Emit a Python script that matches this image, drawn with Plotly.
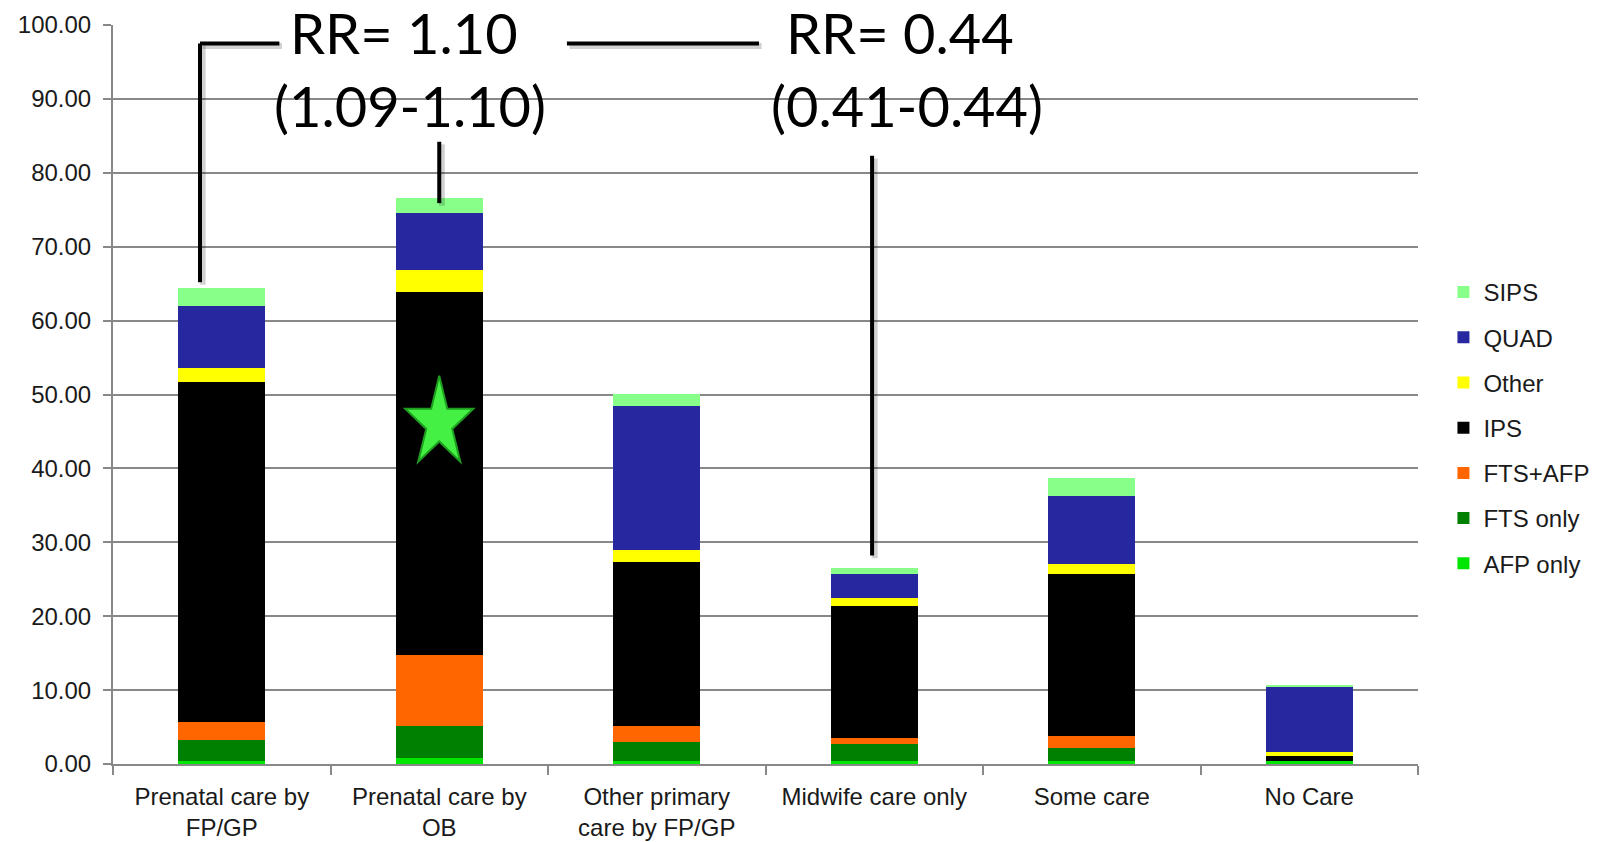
import math
import plotly.graph_objects as go

categories = ["Prenatal care by<br>FP/GP", "Prenatal care by<br>OB", "Other primary<br>care by FP/GP",
              "Midwife care only", "Some care", "No Care"]

afp_only = [0.36, 0.86, 0.36, 0.36, 0.36, 0.36]
fts_only = [2.93, 4.33, 2.66, 2.39, 1.85, 0.0]
fts_afp = [2.44, 9.56, 2.17, 0.81, 1.62, 0.0]
ips = [45.97, 49.15, 22.15, 17.84, 21.89, 0.77]
other = [1.90, 3.00, 1.62, 1.06, 1.35, 0.54]
quad = [8.38, 7.60, 19.49, 3.24, 9.19, 8.75]
sips = [2.42, 2.10, 1.62, 0.80, 2.44, 0.18]

series = [
    ("AFP only", afp_only, "#00E600"),
    ("FTS only", fts_only, "#008000"),
    ("FTS+AFP", fts_afp, "#FF6600"),
    ("IPS", ips, "#000000"),
    ("Other", other, "#FFFF00"),
    ("QUAD", quad, "#2727A0"),
    ("SIPS", sips, "#88FF88"),
]

fig = go.Figure()
n = len(series)
for i, (name, vals, col) in enumerate(series):
    fig.add_trace(go.Bar(x=categories, y=vals, name=name, marker=dict(color=col, line=dict(width=0)),
                         width=0.4, legendgroup=name, legendrank=n - i))

line_col = "#000000"
shadow = "rgba(0,0,0,0.18)"
segs = [
    (-0.1, 65.2, -0.1, 97.5),
    (-0.1, 97.5, 0.265, 97.5),
    (1.0, 84.2, 1.0, 75.9),
    (1.587, 97.5, 2.47, 97.5),
    (2.99, 82.3, 2.99, 28.2),
]
shapes = []
for x0, y0, x1, y1 in segs:
    shapes.append(dict(type="line", xref="x", yref="y", x0=x0 + 0.012, y0=y0 - 0.35, x1=x1 + 0.012, y1=y1 - 0.35,
                       line=dict(color=shadow, width=6), layer="above"))
for x0, y0, x1, y1 in segs:
    shapes.append(dict(type="line", xref="x", yref="y", x0=x0, y0=y0, x1=x1, y1=y1,
                       line=dict(color=line_col, width=4), layer="above"))

# decorative star (stretched vertically) anchored on the OB bar, sized in pixels
rx, ry, inner = 35.8, 47.5, 0.382
pts = []
for k in range(10):
    ang = math.pi / 2 + k * math.pi / 5
    f = 1.0 if k % 2 == 0 else inner
    pts.append((rx * f * math.cos(ang), ry * f * math.sin(ang)))
star_path = "M " + " L ".join(f"{px:.2f},{py:.2f}" for px, py in pts) + " Z"
shapes.append(dict(type="path", xref="x", yref="y", xsizemode="pixel", ysizemode="pixel",
                   xanchor=1, yanchor=46.1, path=star_path, fillcolor="#44F044",
                   line=dict(color="#1E9E1E", width=2), layer="above"))

ann_font = dict(family="Lato, Open Sans, sans-serif", size=56, color="#000000")
annotations = [
    dict(x=0.84, y=99.0, xref="x", yref="y", text="RR= 1.10", showarrow=False, font=ann_font),
    dict(x=0.866, y=89.1, xref="x", yref="y", text="(1.09-1.10)", showarrow=False, font=ann_font),
    dict(x=3.12, y=99.0, xref="x", yref="y", text="RR= 0.44", showarrow=False, font=ann_font),
    dict(x=3.15, y=89.1, xref="x", yref="y", text="(0.41-0.44)", showarrow=False, font=ann_font),
]

fig.update_layout(
    barmode="stack",
    width=1608, height=842,
    margin=dict(l=113, r=190, t=25, b=78, autoexpand=False),
    paper_bgcolor="white", plot_bgcolor="white",
    font=dict(family="Liberation Sans, Arial, sans-serif", color="#1a1a1a", size=24),
    shapes=shapes,
    annotations=annotations,
    legend=dict(x=1.0195, xanchor="left", y=0.6685, yanchor="top", traceorder="grouped",
                tracegroupgap=11, font=dict(size=24, color="#1a1a1a"), itemwidth=30,
                bgcolor="rgba(0,0,0,0)"),
)
fig.update_xaxes(showline=True, linecolor="#888888", linewidth=2, ticks="outside", tickson="boundaries",
                 ticklen=9, tickwidth=2, tickcolor="#888888", showgrid=False, automargin=False,
                 ticklabelstandoff=10,
                 tickfont=dict(size=24, color="#1a1a1a"), range=[-0.5, 5.5])
fig.update_yaxes(range=[0, 100], dtick=10, tickformat=".2f", showline=True, linecolor="#888888", linewidth=2,
                 ticks="outside", ticklen=8, tickwidth=2, tickcolor="#888888", showgrid=True, automargin=False,
                 ticklabelstandoff=7,
                 gridcolor="#888888", gridwidth=2, zeroline=False, tickfont=dict(size=24, color="#1a1a1a"))

fig.write_html("out.html", config={"displayModeBar": False}, post_script=(
    "document.body.style.margin='0px';"
    "document.body.style.overflow='hidden';"
    "document.documentElement.style.overflow='hidden';"))
